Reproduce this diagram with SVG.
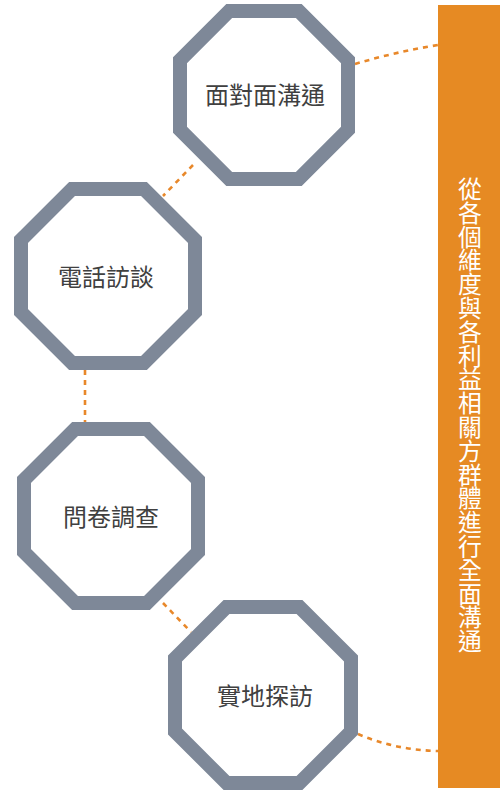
<svg xmlns="http://www.w3.org/2000/svg" width="502" height="791" viewBox="0 0 502 791">
<style>
.oct{fill:#fff;stroke:#7E8898;stroke-width:14;stroke-linejoin:miter}
.lbl{font-family:"Noto Sans CJK TC","Noto Sans CJK SC",sans-serif;font-size:24px;fill:#404040;text-anchor:middle}
.con{fill:none;stroke:#E8882A;stroke-width:2.6;stroke-dasharray:5 5}
.bartxt{font-family:"Noto Sans CJK TC","Noto Sans CJK SC",sans-serif;font-size:23.8px;fill:#fff;text-anchor:middle;writing-mode:vertical-rl}
</style>
<rect width="502" height="791" fill="#fff"/>
<g id="connectors">
<path class="con" d="M355,64 Q395,52 438,45"/>
<path class="con" d="M193,165 L163,196"/>
<path class="con" d="M85,370 L85,422"/>
<path class="con" d="M163,603 L191,632"/>
<path class="con" d="M358,734 Q395,750 438,751"/>
</g>
<g id="bar">
<rect x="438" y="5" width="62" height="783" fill="#E68A23"/>
<text class="bartxt" x="470" y="415">從各個維度與各利益相關方群體進行全面溝通</text>
</g>
<g id="node1">
<path class="oct" d="M229.2,11 L298.8,11 L348,60.2 L348,129.8 L298.8,179 L229.2,179 L180,129.8 L180,60.2 Z"/>
<text class="lbl" x="265" y="104">面對面溝通</text>
</g>
<g id="node2">
<path class="oct" d="M72,189 L144,189 L195,240 L195,312 L144,363 L72,363 L21,312 L21,240 Z"/>
<text class="lbl" x="106" y="286">電話訪談</text>
</g>
<g id="node3">
<path class="oct" d="M75,429 L147,429 L198,480 L198,552 L147,603 L75,603 L24,552 L24,480 Z"/>
<text class="lbl" x="111" y="526">問卷調查</text>
</g>
<g id="node4">
<path class="oct" d="M226.5,607 L299.5,607 L351,658.5 L351,731.5 L299.5,783 L226.5,783 L175,731.5 L175,658.5 Z"/>
<text class="lbl" x="265" y="705">實地探訪</text>
</g>
</svg>
